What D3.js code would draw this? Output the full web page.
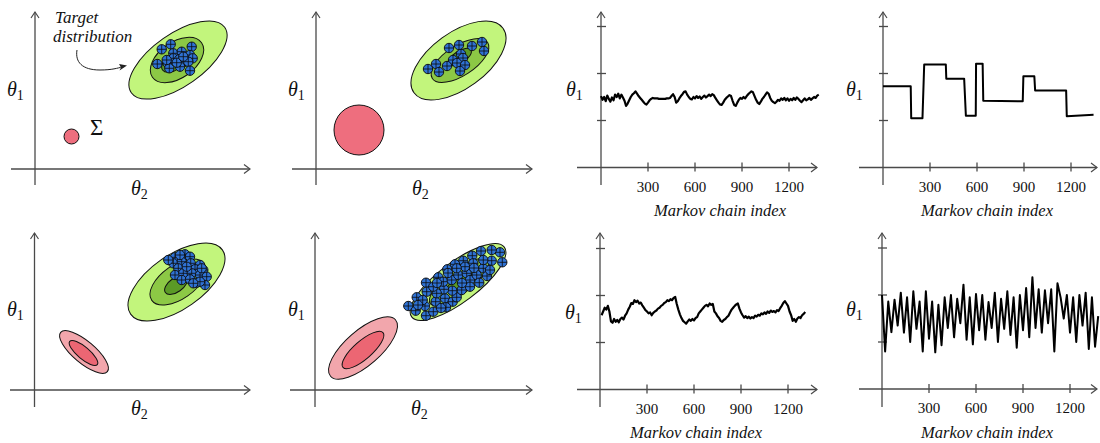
<!DOCTYPE html>
<html><head><meta charset="utf-8">
<script src="https://cdn.jsdelivr.net/npm/d3@7"></script>
<style>
body{margin:0;background:#fff}
svg{display:block}
text{font-family:"Liberation Serif","DejaVu Serif",serif;fill:#111}
</style>
</head><body><script>
// ---------------- DATA ----------------
const traceTicks = [300, 600, 900, 1200];
const levelTicks = [1, 2, 3];
const xTitle = "Markov chain index";
const yTitle = "θ";
const xSub = "2", ySub = "1";

// scatter panels: samples (θ2, θ1)
const p1Points = [[13.57,12.47],[12.67,11.97],[15.67,12.23],[13.83,11.57],[14.67,11.73],[15.5,11.4],[12.23,10.5],[13.27,10.57],[13.83,11.07],[14.43,10.97],[15.0,10.73],[15.77,11.07],[13.43,10.07],[14.5,10.23],[15.33,10.73],[15.5,9.83],[13.17,10.9],[14.17,10.63],[14.83,11.23]];
const p2Points = [[13.3,12.1],[14.3,12.4],[15.6,12.3],[16.6,12.7],[16.8,11.8],[14.5,11.5],[13.7,10.9],[14.7,11.1],[14.1,10.6],[14.9,10.4],[12.0,10.5],[13.1,10.3],[11.2,10.0],[12.3,9.7],[14.4,9.8]];
const p3Points = [[14.05,13.27],[15.05,13.57],[15.55,13.33],[13.88,12.67],[14.72,12.83],[15.62,12.67],[16.55,12.5],[14.38,12.17],[15.22,12.0],[16.05,12.07],[16.88,12.0],[14.05,11.5],[14.88,11.67],[15.72,11.67],[16.55,11.5],[17.22,11.33],[14.72,11.0],[15.55,11.07],[16.22,10.73],[17.05,10.5],[15.22,12.33],[16.55,10.83],[13.38,13.0],[14.55,13.5],[15.88,10.67],[16.72,12.17]];
const p4Points = [[18.5,13.77],[18.73,12.77],[16.6,13.9],[15.73,13.43],[14.83,12.93],[14.0,12.57],[13.23,12.07],[12.33,11.27],[11.1,10.73],[10.17,9.27],[9.33,8.4],[10.07,7.93],[11.1,7.43],[11.83,7.83],[11.0,8.4],[12.07,8.83],[13.0,9.17],[13.77,8.83],[13.1,8.27],[14.17,9.27],[14.67,10.0],[13.73,9.93],[12.9,10.07],[12.17,9.67],[11.17,9.83],[10.77,9.0],[11.83,10.33],[12.83,10.83],[13.67,11.0],[14.33,11.5],[15.17,11.67],[15.5,11.0],[16.17,11.5],[16.83,12.17],[17.67,12.93],[17.67,14.0],[15.83,12.67],[15.0,12.33],[14.17,12.17],[16.83,13.0],[16.43,10.73],[15.5,10.33],[13.3,11.7],[14.7,10.7],[17.2,11.4],[12.2,10.7],[10.3,8.5],[12.6,8.2],[15.9,12.2],[17.5,12.0]];

// density contours (centre θ2, centre θ1, semi-axes, angle in degrees)
const targetP1 = [{cx:14.3,cy:10.9,a:5.7,b:2.6,ang:35,lvl:0},{cx:14.2,cy:10.9,a:3.0,b:1.8,ang:35,lvl:1},{cx:13.9,cy:10.7,a:1.4,b:0.8,ang:35,lvl:2}];
const targetP2 = [{cx:14.25,cy:10.85,a:5.5,b:2.8,ang:36,lvl:0},{cx:14.4,cy:10.85,a:3.3,b:1.5,ang:33,lvl:1},{cx:14.4,cy:11.2,a:1.3,b:0.6,ang:33,lvl:2}];
const targetP3 = [{cx:14.2,cy:10.8,a:5.6,b:2.7,ang:35,lvl:0},{cx:14.35,cy:10.8,a:3.2,b:1.7,ang:35,lvl:1},{cx:14.15,cy:10.5,a:1.3,b:0.7,ang:35,lvl:2}];
const targetP4 = [{cx:14.3,cy:10.8,a:5.8,b:2.0,ang:37,lvl:0},{cx:14.4,cy:10.8,a:3.6,b:1.2,ang:37,lvl:1},{cx:14.4,cy:10.8,a:1.5,b:0.5,ang:37,lvl:2}];
const proposalP1 = [{cx:3.65,cy:3.25,a:0.75,b:0.75,ang:0,lvl:1}];
const proposalP2 = [{cx:4.3,cy:3.9,a:2.5,b:2.5,ang:0,lvl:1}];
const proposalP3 = [{cx:4.95,cy:3.8,a:3.05,b:1.1,ang:-40,lvl:0},{cx:4.9,cy:3.7,a:1.8,b:0.6,ang:-40,lvl:1}];
const proposalP4 = [{cx:4.8,cy:4.2,a:4.3,b:1.75,ang:41,lvl:0},{cx:4.8,cy:4.0,a:2.65,b:0.9,ang:41,lvl:1}];

// trace A: small steps (index every 10)
const traceAStep = 10, traceAStart = 0;
const traceA = [1.52,1.44,1.50,1.41,1.53,1.46,1.40,1.49,1.43,1.55,1.50,1.57,1.47,1.55,1.49,1.42,1.31,1.36,1.43,1.50,1.55,1.58,1.62,1.57,1.52,1.48,1.44,1.40,1.36,1.34,1.38,1.43,1.46,1.48,1.47,1.47,1.47,1.46,1.46,1.46,1.46,1.46,1.47,1.47,1.48,1.52,1.56,1.50,1.38,1.41,1.47,1.52,1.56,1.61,1.62,1.55,1.50,1.46,1.45,1.50,1.47,1.52,1.48,1.51,1.46,1.50,1.53,1.49,1.52,1.55,1.52,1.56,1.54,1.48,1.43,1.38,1.34,1.33,1.38,1.44,1.48,1.51,1.54,1.52,1.42,1.33,1.31,1.38,1.44,1.48,1.46,1.50,1.47,1.52,1.56,1.59,1.62,1.60,1.52,1.44,1.38,1.35,1.40,1.46,1.50,1.55,1.60,1.57,1.48,1.42,1.39,1.37,1.40,1.44,1.42,1.47,1.44,1.48,1.43,1.47,1.42,1.46,1.43,1.48,1.44,1.49,1.46,1.42,1.39,1.43,1.47,1.43,1.45,1.48,1.44,1.47,1.50,1.48,1.53,1.55];
// trace B: large steps, few acceptances
const traceBIdx = [0,177,180,252,263,401,404,518,529,592,594,636,640,892,896,966,971,1169,1173,1344];
const traceBVal = [1.73,1.73,1.05,1.05,2.19,2.19,1.89,1.89,1.10,1.10,2.21,2.21,1.42,1.41,1.94,1.94,1.64,1.64,1.09,1.12];
// trace C: medium steps
const traceCStep = 10, traceCStart = 10;
const traceC = [1.58,1.66,1.74,1.70,1.78,1.66,1.45,1.42,1.50,1.44,1.48,1.43,1.50,1.53,1.49,1.57,1.62,1.70,1.76,1.84,1.82,1.90,1.86,1.89,1.83,1.85,1.79,1.74,1.69,1.66,1.62,1.64,1.58,1.63,1.66,1.68,1.72,1.74,1.78,1.80,1.84,1.86,1.90,1.88,1.92,1.90,1.95,1.97,1.82,1.70,1.60,1.52,1.46,1.43,1.40,1.45,1.49,1.46,1.50,1.47,1.52,1.54,1.62,1.66,1.70,1.74,1.78,1.80,1.77,1.83,1.80,1.82,1.66,1.62,1.56,1.52,1.46,1.44,1.48,1.50,1.54,1.57,1.64,1.70,1.74,1.78,1.81,1.83,1.72,1.64,1.58,1.53,1.56,1.52,1.55,1.51,1.54,1.52,1.57,1.55,1.59,1.57,1.62,1.60,1.64,1.61,1.66,1.63,1.68,1.65,1.67,1.64,1.69,1.67,1.73,1.78,1.84,1.88,1.83,1.78,1.66,1.58,1.46,1.50,1.44,1.51,1.54,1.52,1.58,1.61,1.65];
// trace D: adapted proposal, well mixing (index every 20)
const traceDStep = 20, traceDStart = 0;
const traceD = [2.00,0.80,1.86,1.21,1.90,1.35,2.05,1.20,1.95,1.00,2.08,1.28,1.86,0.80,2.08,1.07,1.86,0.78,1.79,0.93,1.95,1.30,2.00,1.10,1.92,1.40,2.22,1.05,1.95,0.95,2.02,1.25,2.00,1.05,1.85,1.30,2.05,1.00,1.92,1.28,2.08,1.15,1.95,0.88,2.00,1.25,2.15,1.10,2.38,1.30,2.12,1.20,2.10,1.40,2.12,0.80,2.25,1.95,1.50,2.00,1.20,1.95,1.00,2.00,1.35,2.05,0.85,1.95,0.90,1.55];

// ---------------- DRAWING ----------------
const W = 1100, H = 443;
const svg = d3.select("body").append("svg").attr("width", W).attr("height", H);
const AX = "#4a4a4a";
const greens = ["#c2f57c", "#8cc845", "#5b9a26"];
const reds = ["#f2a6ac", "#ec6673"];
const redCircle = "#ee6e7e";

function arrowAxis(g, x1, y1, x2, y2, dir) {
  g.append("line").attr("x1", x1).attr("y1", y1).attr("x2", x2).attr("y2", y2)
    .attr("stroke", AX).attr("stroke-width", 1.3);
  const d = dir === "right"
    ? `M${x2 - 6},${y2 - 4.5}L${x2},${y2}L${x2 - 6},${y2 + 4.5}`
    : `M${x1 - 4},${y1 + 6}L${x1},${y1}L${x1 + 4},${y1 + 6}`;
  g.append("path").attr("d", d).attr("fill", "none").attr("stroke", AX).attr("stroke-width", 1.2);
}

function thetaLabel(g, x, y, sub) {
  const t = g.append("text").attr("x", x).attr("y", y).style("font-size", "20px");
  t.append("tspan").style("font-style", "italic").text(yTitle);
  t.append("tspan").attr("dy", 4).style("font-size", "14px").text(sub);
}

function scatterPanel(cfg) {
  const g = svg.append("g");
  const x = d3.scaleLinear().domain([0, 1]).range([cfg.ox, cfg.ox + 10]);
  const y = d3.scaleLinear().domain([0, 1]).range([cfg.oy, cfg.oy - 10]);
  const k = x(1) - x(0);
  arrowAxis(g, cfg.ox, cfg.top, cfg.ox, cfg.bottom, "up");
  arrowAxis(g, cfg.left, cfg.oy, cfg.right, cfg.oy, "right");
  thetaLabel(g, cfg.t1[0], cfg.t1[1], ySub);
  thetaLabel(g, cfg.t2[0], cfg.t2[1], xSub);
  const ell = (arr, pal) => arr.forEach(e => {
    g.append("ellipse")
      .attr("cx", x(e.cx)).attr("cy", y(e.cy))
      .attr("rx", e.a * k).attr("ry", e.b * k)
      .attr("transform", `rotate(${-e.ang} ${x(e.cx)} ${y(e.cy)})`)
      .attr("fill", pal[e.lvl]).attr("stroke", "#111").attr("stroke-width", 1);
  });
  ell(cfg.proposal, cfg.propPalette);
  ell(cfg.target, greens);
  const pts = g.selectAll("g.pt").data(cfg.points).join("g").attr("class", "pt")
    .attr("transform", d => `translate(${x(d[0])},${y(d[1])})`);
  pts.append("circle").attr("r", 4.7).attr("fill", "#2f72d4").attr("stroke", "#0b0b0b").attr("stroke-width", 0.9);
  pts.append("path").attr("d", "M-4.7,0H4.7M0,-4.7V4.7").attr("stroke", "#0b0b0b").attr("stroke-width", 0.8);
  return g;
}

const g1 = scatterPanel({ox:35, oy:169, top:12, bottom:185, left:11, right:250, t1:[7,96], t2:[131,195],
  target: targetP1, proposal: proposalP1, propPalette: [redCircle, redCircle], points: p1Points});
scatterPanel({ox:316, oy:169, top:12, bottom:185, left:292, right:532, t1:[288,96], t2:[412,195],
  target: targetP2, proposal: proposalP2, propPalette: [redCircle, redCircle], points: p2Points});
scatterPanel({ox:34.5, oy:390, top:233, bottom:407, left:10, right:250, t1:[7,316], t2:[131,415],
  target: targetP3, proposal: proposalP3, propPalette: reds, points: p3Points});
scatterPanel({ox:315, oy:390, top:233, bottom:407, left:290, right:532, t1:[288,316], t2:[411,415],
  target: targetP4, proposal: proposalP4, propPalette: reds, points: p4Points});

// annotations in panel 1
g1.append("text").attr("x", 90).attr("y", 135).style("font-size", "23px").text("Σ");
g1.append("text").attr("x", 55).attr("y", 23).style("font-size", "17px").style("font-style", "italic").text("Target");
g1.append("text").attr("x", 53).attr("y", 42).style("font-size", "17px").style("font-style", "italic").text("distribution");
g1.append("path").attr("d", "M77,50C75,62 82,70 100,70C112,70 118,68 122,67")
  .attr("fill", "none").attr("stroke", "#222").attr("stroke-width", 1);
g1.append("path").attr("d", "M127,65.5L119,64L121,67.5L119.5,70.5Z").attr("fill", "#222");

function tracePanel(cfg) {
  const g = svg.append("g");
  const x = d3.scaleLinear().domain([0, 300]).range([cfg.ox, cfg.ox + 47]);
  const y = d3.scaleLinear().domain([0, 1]).range([cfg.oy, cfg.oy - 47]);
  arrowAxis(g, cfg.ox, cfg.top, cfg.ox, cfg.bottom, "up");
  arrowAxis(g, cfg.left, cfg.oy, cfg.right, cfg.oy, "right");
  g.selectAll("line.xt").data(traceTicks).join("line").attr("class", "xt")
    .attr("x1", d => x(d)).attr("x2", d => x(d)).attr("y1", cfg.oy - 5).attr("y2", cfg.oy + 4)
    .attr("stroke", AX).attr("stroke-width", 1.3);
  g.selectAll("line.yt").data(levelTicks).join("line").attr("class", "yt")
    .attr("x1", cfg.ox - 4).attr("x2", cfg.ox + 5).attr("y1", d => y(d)).attr("y2", d => y(d))
    .attr("stroke", AX).attr("stroke-width", 1.3);
  g.selectAll("text.xl").data(traceTicks).join("text").attr("class", "xl")
    .attr("x", d => x(d)).attr("y", cfg.oy + 24).attr("text-anchor", "middle")
    .style("font-size", "15px").text(d => d);
  g.append("text").attr("x", cfg.titleX).attr("y", cfg.titleY).attr("text-anchor", "middle")
    .style("font-size", "16.5px").style("font-style", "italic").text(xTitle);
  thetaLabel(g, cfg.t1[0], cfg.t1[1], ySub);
  const line = d3.line().x(d => x(d[0])).y(d => y(d[1]));
  g.append("path").datum(cfg.series).attr("d", line).attr("fill", "none")
    .attr("stroke", "#000").attr("stroke-width", cfg.sw).attr("stroke-linejoin", "round");
}

const seq = (vals, start, step) => vals.map((v, i) => [start + i * step, v]);

tracePanel({ox:601, oy:167.5, top:12, bottom:185, left:577, right:817, titleX:720, titleY:216, t1:[566,96],
  series: seq(traceA, traceAStart, traceAStep), sw: 2.2});
tracePanel({ox:883, oy:167.5, top:12, bottom:185, left:859, right:1097, titleX:987, titleY:216, t1:[846,96],
  series: traceBIdx.map((d, i) => [d, traceBVal[i]]), sw: 2});
tracePanel({ox:600, oy:389.5, top:233, bottom:407, left:577, right:817, titleX:696, titleY:438, t1:[565,319],
  series: seq(traceC, traceCStart, traceCStep), sw: 2.2});
tracePanel({ox:882, oy:389, top:233, bottom:407, left:859, right:1097, titleX:987, titleY:438, t1:[846,316],
  series: seq(traceD, traceDStart, traceDStep), sw: 2});
</script></body></html>
